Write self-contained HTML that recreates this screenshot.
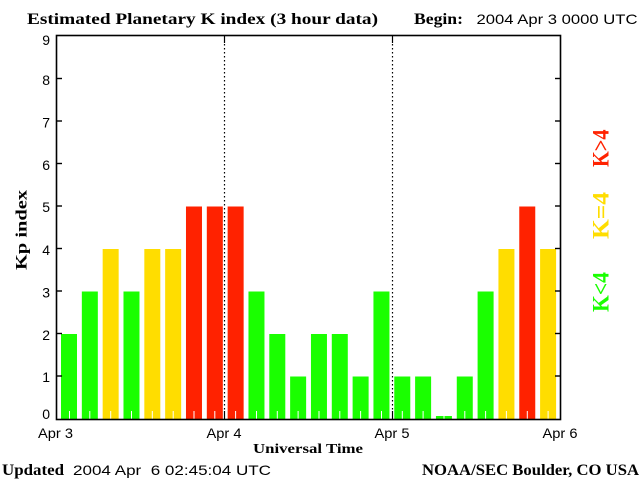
<!DOCTYPE html>
<html>
<head>
<meta charset="utf-8">
<style>
html,body{margin:0;padding:0;background:#fff;}
svg{display:block;}
.serif{font-family:"Liberation Serif",serif;font-weight:bold;}
.sans{font-family:"Liberation Sans",sans-serif;}
</style>
</head>
<body>
<svg width="640" height="480" viewBox="0 0 640 480" xmlns="http://www.w3.org/2000/svg">
<rect x="0" y="0" width="640" height="480" fill="#fff"/>

<!-- Header -->
<text class="serif" x="27" y="24" font-size="16" textLength="351" lengthAdjust="spacingAndGlyphs">Estimated Planetary K index (3 hour data)</text>
<text class="serif" x="414" y="24" font-size="16" textLength="49" lengthAdjust="spacingAndGlyphs">Begin:</text>
<text class="sans" x="476.5" y="24" font-size="14" textLength="161" lengthAdjust="spacingAndGlyphs">2004 Apr 3 0000 UTC</text>

<!-- Bars -->
<g>
<rect x="61" y="334" width="16" height="85" fill="#1aff00"/>
<rect x="81.83" y="291.5" width="16" height="127.5" fill="#1aff00"/>
<rect x="102.66" y="249" width="16" height="170" fill="#ffdd00"/>
<rect x="123.49" y="291.5" width="16" height="127.5" fill="#1aff00"/>
<rect x="144.32" y="249" width="16" height="170" fill="#ffdd00"/>
<rect x="165.15" y="249" width="16" height="170" fill="#ffdd00"/>
<rect x="185.98" y="206.5" width="16" height="212.5" fill="#ff2200"/>
<rect x="206.81" y="206.5" width="16" height="212.5" fill="#ff2200"/>
<rect x="227.64" y="206.5" width="16" height="212.5" fill="#ff2200"/>
<rect x="248.47" y="291.5" width="16" height="127.5" fill="#1aff00"/>
<rect x="269.3" y="334" width="16" height="85" fill="#1aff00"/>
<rect x="290.13" y="376.5" width="16" height="42.5" fill="#1aff00"/>
<rect x="310.96" y="334" width="16" height="85" fill="#1aff00"/>
<rect x="331.79" y="334" width="16" height="85" fill="#1aff00"/>
<rect x="352.62" y="376.5" width="16" height="42.5" fill="#1aff00"/>
<rect x="373.45" y="291.5" width="16" height="127.5" fill="#1aff00"/>
<rect x="394.28" y="376.5" width="16" height="42.5" fill="#1aff00"/>
<rect x="415.11" y="376.5" width="16" height="42.5" fill="#1aff00"/>
<rect x="435.94" y="416" width="16" height="3" fill="#1aff00"/>
<rect x="456.77" y="376.5" width="16" height="42.5" fill="#1aff00"/>
<rect x="477.6" y="291.5" width="16" height="127.5" fill="#1aff00"/>
<rect x="498.43" y="249" width="16" height="170" fill="#ffdd00"/>
<rect x="519.26" y="206.5" width="16" height="212.5" fill="#ff2200"/>
<rect x="540.09" y="249" width="16" height="170" fill="#ffdd00"/>
</g>

<!-- White minor ticks -->
<g stroke="#fff" stroke-width="1">
<line x1="69.5" y1="411" x2="69.5" y2="419"/>
<line x1="89.8" y1="411" x2="89.8" y2="419"/>
<line x1="110.7" y1="411" x2="110.7" y2="419"/>
<line x1="131.5" y1="411" x2="131.5" y2="419"/>
<line x1="152.3" y1="411" x2="152.3" y2="419"/>
<line x1="173.2" y1="411" x2="173.2" y2="419"/>
<line x1="194" y1="411" x2="194" y2="419"/>
<line x1="214.8" y1="411" x2="214.8" y2="419"/>
<line x1="235.6" y1="411" x2="235.6" y2="419"/>
<line x1="256.5" y1="411" x2="256.5" y2="419"/>
<line x1="277.3" y1="411" x2="277.3" y2="419"/>
<line x1="298.1" y1="411" x2="298.1" y2="419"/>
<line x1="319" y1="411" x2="319" y2="419"/>
<line x1="339.8" y1="411" x2="339.8" y2="419"/>
<line x1="360.6" y1="411" x2="360.6" y2="419"/>
<line x1="381.5" y1="411" x2="381.5" y2="419"/>
<line x1="402.3" y1="411" x2="402.3" y2="419"/>
<line x1="423.1" y1="411" x2="423.1" y2="419"/>
<line x1="444" y1="411" x2="444" y2="419"/>
<line x1="464.8" y1="411" x2="464.8" y2="419"/>
<line x1="485.6" y1="411" x2="485.6" y2="419"/>
<line x1="506.4" y1="411" x2="506.4" y2="419"/>
<line x1="527.3" y1="411" x2="527.3" y2="419"/>
<line x1="548.1" y1="411" x2="548.1" y2="419"/>
</g>

<!-- Day separators -->
<g stroke="#000" stroke-width="1.2">
<line x1="224.5" y1="35" x2="224.5" y2="43"/>
<line x1="392.5" y1="35" x2="392.5" y2="43"/>
<line x1="224.5" y1="411" x2="224.5" y2="419"/>
<line x1="392.5" y1="411" x2="392.5" y2="419"/>
<line x1="224.5" y1="44" x2="224.5" y2="411" stroke-dasharray="1.5 2.5"/>
<line x1="392.5" y1="44" x2="392.5" y2="411" stroke-dasharray="1.5 2.5"/>
</g>

<!-- Axes box -->
<rect x="56.5" y="35.5" width="504" height="384" fill="none" stroke="#000" stroke-width="1.6"/>

<!-- Y ticks left & right -->
<g stroke="#000" stroke-width="1.4">
<line x1="56" y1="78.5" x2="62" y2="78.5"/><line x1="555" y1="78.5" x2="560" y2="78.5"/>
<line x1="56" y1="121" x2="62" y2="121"/><line x1="555" y1="121" x2="560" y2="121"/>
<line x1="56" y1="163.5" x2="62" y2="163.5"/><line x1="555" y1="163.5" x2="560" y2="163.5"/>
<line x1="56" y1="206" x2="62" y2="206"/><line x1="555" y1="206" x2="560" y2="206"/>
<line x1="56" y1="248.5" x2="62" y2="248.5"/><line x1="555" y1="248.5" x2="560" y2="248.5"/>
<line x1="56" y1="291" x2="62" y2="291"/><line x1="555" y1="291" x2="560" y2="291"/>
<line x1="56" y1="333.5" x2="62" y2="333.5"/><line x1="555" y1="333.5" x2="560" y2="333.5"/>
<line x1="56" y1="376" x2="62" y2="376"/><line x1="555" y1="376" x2="560" y2="376"/>
</g>

<!-- Y labels -->
<g class="sans" font-size="14" text-anchor="end">
<text x="50" y="45">9</text>
<text x="50" y="85">8</text>
<text x="50" y="127.5">7</text>
<text x="50" y="170">6</text>
<text x="50" y="212">5</text>
<text x="50" y="255">4</text>
<text x="50" y="297.5">3</text>
<text x="50" y="340">2</text>
<text x="50" y="382">1</text>
<text x="50" y="419">0</text>
</g>

<!-- Y axis title -->
<text class="serif" font-size="16" transform="translate(26.5,270) rotate(-90)" textLength="80" lengthAdjust="spacingAndGlyphs">Kp index</text>

<!-- X labels -->
<g class="sans" font-size="14">
<text x="38" y="438" textLength="35" lengthAdjust="spacingAndGlyphs">Apr 3</text>
<text x="206.5" y="438" textLength="35" lengthAdjust="spacingAndGlyphs">Apr 4</text>
<text x="374.5" y="438" textLength="35" lengthAdjust="spacingAndGlyphs">Apr 5</text>
<text x="542.5" y="438" textLength="35" lengthAdjust="spacingAndGlyphs">Apr 6</text>
</g>
<text class="serif" x="253" y="453" font-size="14" textLength="110" lengthAdjust="spacingAndGlyphs">Universal Time</text>

<!-- Legend -->
<text class="serif" font-size="23" fill="#ff2200" transform="translate(608.5,167) rotate(-90)" textLength="37.5" lengthAdjust="spacingAndGlyphs">K&gt;4</text>
<text class="serif" font-size="23" fill="#ffdd00" transform="translate(608.5,239) rotate(-90)" textLength="47" lengthAdjust="spacingAndGlyphs">K=4</text>
<text class="serif" font-size="23" fill="#1aff00" transform="translate(608.5,312) rotate(-90)" textLength="40" lengthAdjust="spacingAndGlyphs">K&lt;4</text>

<!-- Footer -->
<text class="serif" x="2" y="475" font-size="16" textLength="62" lengthAdjust="spacingAndGlyphs">Updated</text>
<text class="sans" x="73" y="475" font-size="14" textLength="198" lengthAdjust="spacingAndGlyphs" xml:space="preserve">2004 Apr  6 02:45:04 UTC</text>
<text class="serif" x="422" y="475" font-size="16" textLength="217" lengthAdjust="spacingAndGlyphs">NOAA/SEC Boulder, CO USA</text>
</svg>
</body>
</html>
